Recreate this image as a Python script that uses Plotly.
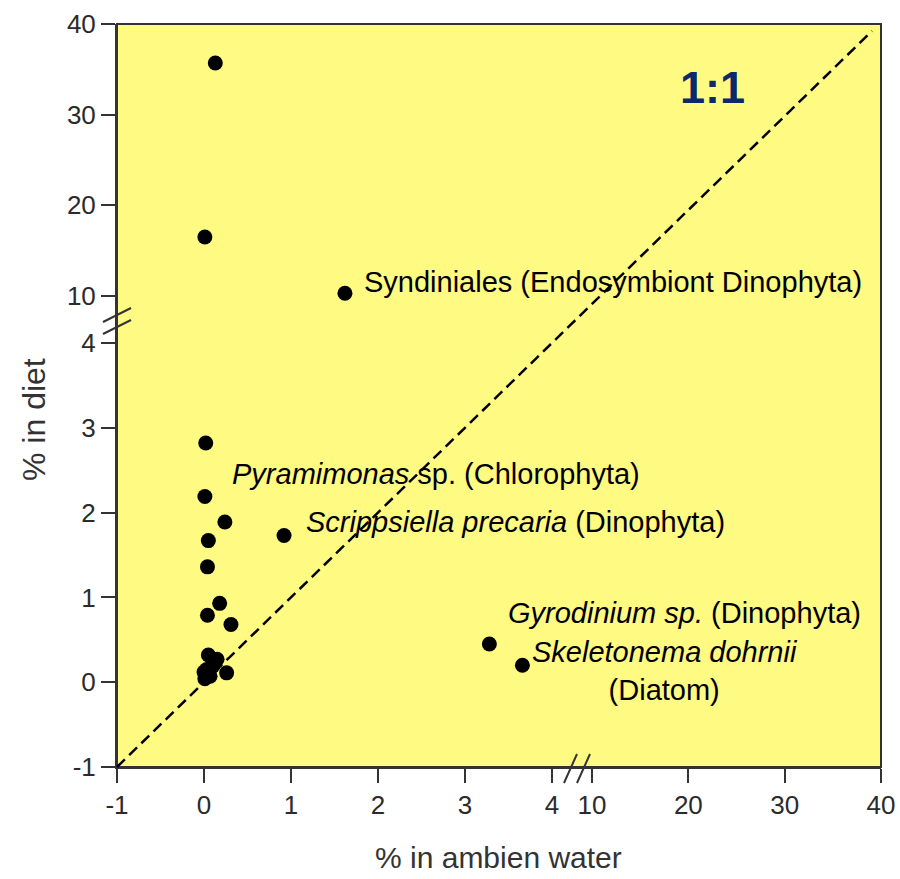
import plotly.graph_objects as go

# ---------------- data ----------------
# points in the lower (0-4 %) part of the diet axis
ambient_low = [0.02, 0.01, 0.24, 0.92, 0.05, 0.04, 0.18, 0.04, 0.31,
               0.05, 0.15, 0.10, 0.26, 0.01, 0.00, 0.07, 0.03, 3.28, 3.66]
diet_low    = [2.82, 2.19, 1.89, 1.73, 1.67, 1.36, 0.93, 0.79, 0.68,
               0.32, 0.27, 0.19, 0.11, 0.04, 0.12, 0.07, 0.15, 0.45, 0.20]
# points in the upper (10-40 %) part of the diet axis
ambient_high = [0.13, 0.01, 1.62]
diet_high    = [35.7, 16.5, 10.3]

x_ticks_low = [-1, 0, 1, 2, 3, 4]
x_ticks_high = [10, 20, 30, 40]
y_ticks_low = [-1, 0, 1, 2, 3, 4]
y_ticks_high = [10, 20, 30, 40]
tick_text_low = ["-1", "0", "1", "2", "3", "4"]

labels = [
    ("Syndiniales (Endosymbiont Dinophyta)", 362, 282),
    ("<i>Pyramimonas</i> sp. (Chlorophyta)", 230, 474),
    ("<i>Scrippsiella precaria</i> (Dinophyta)", 304, 522),
    ("<i>Gyrodinium sp.</i> (Dinophyta)", 506, 613),
]

# ---------------- layout geometry (pixels) ----------------
W, H = 900, 879
XL, XB, XR = 117, 572, 881
YT, YB, YBOT = 24, 318, 767
FONT = "Liberation Sans, Arial, sans-serif"
AX = "#333333"


def px(x):
    return x / W


def py(y):
    return 1 - y / H


# pixel anchors of ticks -> ranges
xlow_per = (552 - 117) / 5.0
xhigh_per = (881 - 592) / 30.0
ylow_per = (767 - 343) / 5.0
yhigh_per = (296 - 24) / 30.0
xr_low = [-1, -1 + (XB - XL) / xlow_per]
xr_high = [10 - (592 - XB) / xhigh_per, 40]
yr_low = [-1, -1 + (YBOT - YB) / ylow_per]
yr_high = [10 - (YB - 296) / yhigh_per, 40]

fig = go.Figure()

marker = dict(color="black", size=15, line=dict(width=0))
fig.add_trace(go.Scatter(x=ambient_low, y=diet_low, mode="markers",
                         marker=marker, xaxis="x", yaxis="y",
                         showlegend=False, hoverinfo="skip"))
fig.add_trace(go.Scatter(x=ambient_high, y=diet_high, mode="markers",
                         marker=marker, xaxis="x", yaxis="y2",
                         showlegend=False, hoverinfo="skip"))
fig.add_trace(go.Scatter(x=[], y=[], mode="markers", xaxis="x2", yaxis="y",
                         showlegend=False))

axis_common = dict(
    showgrid=False, zeroline=False, showline=True, linewidth=2,
    linecolor=AX, ticks="outside", ticklen=14, tickwidth=2,
    tickcolor=AX, tickfont=dict(family=FONT, size=26, color="#2b2b2b"),
    automargin=False, fixedrange=True,
)

fig.update_layout(
    width=W, height=H,
    margin=dict(l=0, r=0, t=0, b=0),
    paper_bgcolor="white",
    plot_bgcolor="rgba(0,0,0,0)",
    xaxis=dict(domain=[px(XL), px(XB)], range=xr_low, tickvals=x_ticks_low,
               ticktext=tick_text_low, anchor="y", **axis_common),
    xaxis2=dict(domain=[px(XB), px(XR)], range=xr_high, tickvals=x_ticks_high,
                anchor="y", **axis_common),
    yaxis=dict(domain=[py(YBOT), py(YB)], range=yr_low, tickvals=y_ticks_low,
               ticktext=tick_text_low, anchor="x", **axis_common),
    yaxis2=dict(domain=[py(YB), py(YT)], range=yr_high, tickvals=y_ticks_high,
                anchor="x", **axis_common),
)

shapes = [
    # yellow plotting area with frame
    dict(type="rect", xref="paper", yref="paper",
         x0=px(XL), x1=px(XR), y0=py(YBOT), y1=py(YT),
         fillcolor="#FFFA82", line=dict(color=AX, width=2), layer="below"),
    # 1:1 dashed line
    dict(type="line", xref="paper", yref="paper",
         x0=px(XL), y0=py(YBOT), x1=px(872), y1=py(31),
         line=dict(color="black", width=2.5, dash="11px,6px")),
    # y-axis break marks
    dict(type="line", xref="paper", yref="paper",
         x0=px(103), y0=py(322), x1=px(131), y1=py(308),
         line=dict(color=AX, width=2)),
    dict(type="line", xref="paper", yref="paper",
         x0=px(103), y0=py(334), x1=px(131), y1=py(320),
         line=dict(color=AX, width=2)),
    # x-axis break marks
    dict(type="line", xref="paper", yref="paper",
         x0=px(564), y0=py(783), x1=px(577), y1=py(754),
         line=dict(color=AX, width=2)),
    dict(type="line", xref="paper", yref="paper",
         x0=px(577), y0=py(783), x1=px(590), y1=py(754),
         line=dict(color=AX, width=2)),
]
fig.update_layout(shapes=shapes)

ann = []
for text, x, y in labels:
    ann.append(dict(text=text, xref="paper", yref="paper", x=px(x), y=py(y),
                    xanchor="left", yanchor="middle", showarrow=False,
                    font=dict(family=FONT, size=29, color="black")))
ann.append(dict(text="<i>Skeletonema dohrnii</i><br>(Diatom)",
                xref="paper", yref="paper", x=px(665), y=py(671),
                xanchor="center", yanchor="middle", showarrow=False,
                align="center",
                font=dict(family=FONT, size=29, color="black")))
ann.append(dict(text="<b>1:1</b>", xref="paper", yref="paper",
                x=px(712), y=py(87), xanchor="center", yanchor="middle",
                showarrow=False,
                font=dict(family=FONT, size=45, color="#0b2a6b")))
ann.append(dict(text="% in ambien water", xref="paper", yref="paper",
                x=px(499), y=py(857), xanchor="center", yanchor="middle",
                showarrow=False,
                font=dict(family=FONT, size=30, color="#333333")))
ann.append(dict(text="% in diet", xref="paper", yref="paper",
                x=px(34), y=py(420), xanchor="center", yanchor="middle",
                showarrow=False, textangle=-90,
                font=dict(family=FONT, size=32, color="#333333")))
fig.update_layout(annotations=ann)

fig.write_html("out.html")
